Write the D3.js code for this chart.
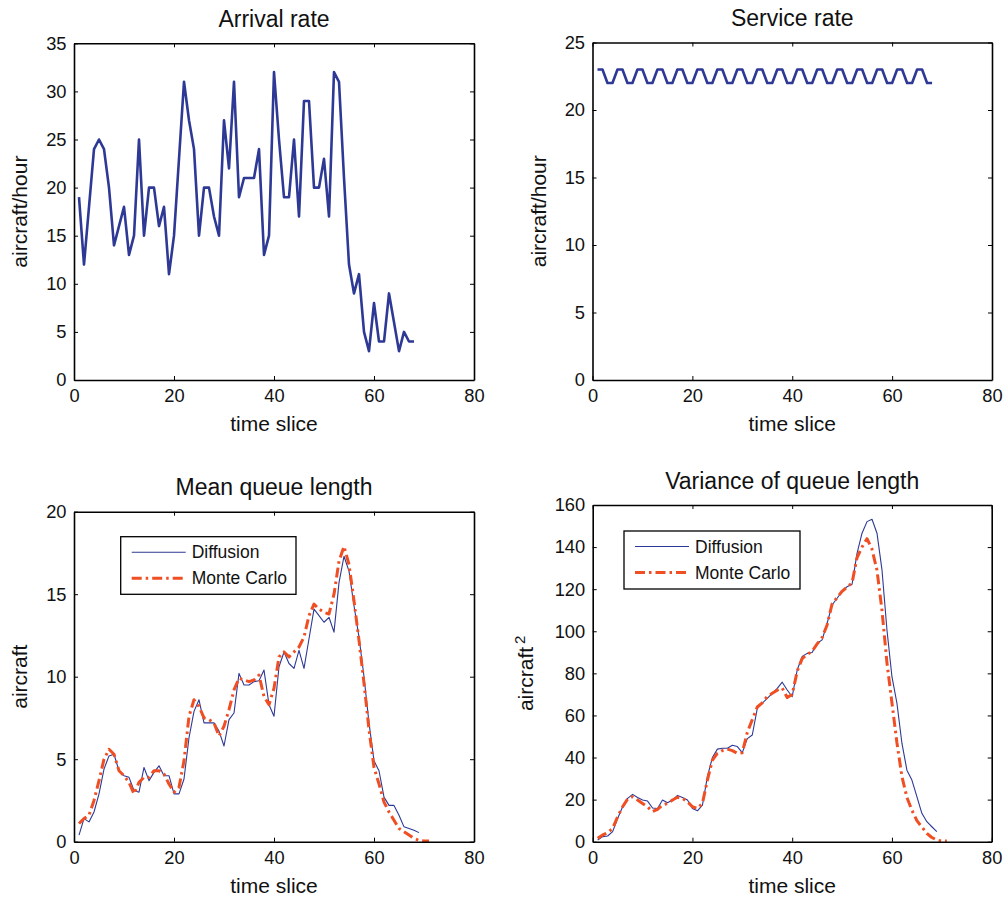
<!DOCTYPE html>
<html>
<head>
<meta charset="utf-8">
<script src="https://cdn.jsdelivr.net/npm/d3@7"></script>
<style>
  body { margin: 0; background: #fff; }
  svg { display: block; font-family: "Liberation Sans", Arial, sans-serif; }
</style>
</head>
<body>
<script>
// ---- data ----
const xTicks = [0, 20, 40, 60, 80];

const arrivalRate = [19, 12, 18, 24, 25, 24, 20, 14, 16, 18, 13, 15, 25, 15, 20, 20, 16, 18, 11, 15,
    23, 31, 27, 24, 15, 20, 20, 17, 15, 27, 22, 31, 19, 21, 21, 21, 24, 13, 15, 32,
    25, 19, 19, 25, 17, 29, 29, 20, 20, 23, 17, 32, 31, 21, 12, 9, 11, 5, 3, 8,
    4, 4, 9, 6, 3, 5, 4, 4];

const serviceRate = [23, 23, 22, 22, 23, 23, 22, 22, 23, 23, 22, 22, 23, 23, 22, 22, 23, 23, 22, 22,
    23, 23, 22, 22, 23, 23, 22, 22, 23, 23, 22, 22, 23, 23, 22, 22, 23, 23, 22, 22,
    23, 23, 22, 22, 23, 23, 22, 22, 23, 23, 22, 22, 23, 23, 22, 22, 23, 23, 22, 22,
    23, 23, 22, 22, 23, 23, 22, 22];

const meanDiffusion = [0.4, 1.4, 1.2, 1.8, 2.9, 4.4, 5.2, 5.3, 4.3, 4.0, 3.9, 3.1, 3.0, 4.5, 3.7, 4.2, 4.6, 4.0, 4.0, 2.9,
    2.9, 3.8, 6.3, 7.9, 8.6, 7.2, 7.2, 7.2, 6.7, 5.8, 7.4, 7.8, 10.2, 9.5, 9.5, 9.7, 9.75, 10.4, 8.3, 7.6,
    10.6, 11.5, 10.8, 10.5, 11.6, 10.5, 12.3, 14.1, 13.7, 13.3, 13.6, 12.7, 15.7, 17.3, 16.4, 14.3, 12.4, 10.0, 7.2, 4.9,
    4.3, 2.7, 2.2, 2.2, 1.6, 0.9, 0.8, 0.7, 0.55];

const meanMonteCarlo = [1.1, 1.4, 1.6, 2.5, 3.7, 5.0, 5.6, 5.3, 4.3, 4.0, 3.6, 2.9, 3.6, 3.9, 3.9, 4.3, 4.3, 4.1, 3.5, 3.0,
    3.3, 4.9, 7.6, 8.6, 8.2, 7.5, 7.4, 7.2, 6.4, 7.0, 8.0, 9.2, 9.9, 9.8, 9.7, 9.8, 10.1, 8.8, 8.3, 9.3,
    11.2, 11.5, 11.2, 11.5, 11.8, 12.4, 13.7, 14.4, 14.1, 13.9, 13.8, 15.0, 17.0, 17.9, 16.8, 14.6, 12.2, 9.6, 6.8, 4.5,
    3.5, 2.4, 1.8, 1.3, 0.8, 0.6, 0.4, 0.2, 0.08, 0.05, 0.05];

const varDiffusion = [0.8, 2.4, 2.7, 4.8, 11, 16.6, 20.6, 22.5, 21, 19.8, 19.3, 16, 15.8, 19.8, 18.5, 19.8, 22, 21, 19.8, 15.8,
    14.7, 17.4, 30.9, 40, 44, 44.4, 44.4, 45.8, 45.2, 42.3, 49, 50.7, 63.4, 65.8, 68.1, 70.5, 72.9, 75.8, 72.1, 68.9,
    81.6, 88, 89.5, 89.9, 94.3, 95.9, 103.8, 112.5, 115.7, 118.9, 121.2, 122.3, 137, 146.6, 152.1, 153.2, 146.6, 129.2, 100.6, 78.4,
    65.8, 46.8, 34, 29.3, 21.4, 13.5, 9.5, 7.1, 4.8];

const varMonteCarlo = [1.6, 3.2, 4.3, 6.3, 11.9, 16.6, 20.3, 21.4, 19.8, 18.2, 16.6, 14.3, 15.4, 17.4, 18.2, 19.8, 21.1, 20.6, 19, 16.6,
    15.8, 18.2, 29.3, 38.8, 42, 43.3, 44, 43.3, 42, 42.3, 52, 58, 64, 66, 69, 70.5, 72, 73, 68.5, 70,
    81, 87, 89, 90.5, 94, 97, 103, 113, 116, 119, 121, 123, 135, 140, 144, 139, 129, 110, 85, 66,
    47, 31, 21, 15, 10, 7, 4, 2, 0.8, 0.3, 0.3];

const legendLabels = ["Diffusion", "Monte Carlo"];

// ---- styles ----
const blue = "#2d3995";
const red = "#f04e23";
const tickFont = "18.3px";

const svg = d3.select("body")
    .append("svg")
    .attr("width", 1005)
    .attr("height", 898);

// one subplot: box with inward ticks on all four sides, MATLAB style
function renderPanel(p) {
    const x = d3.scaleLinear().domain([0, 80]).range([p.left, p.right]);
    const y = d3.scaleLinear().domain([0, p.yMax]).range([p.bottom, p.top]);
    const g = svg.append("g");

    const line = d3.line()
        .x((d, i) => x(i + 1))
        .y(d => y(d));

    p.series.forEach(s => {
        g.append("path")
            .datum(s.values)
            .attr("fill", "none")
            .attr("stroke", s.color)
            .attr("stroke-width", s.width)
            .attr("stroke-dasharray", s.dash || null)
            .attr("stroke-linejoin", "round")
            .attr("d", line);
    });

    const bottom = g.append("g")
        .attr("transform", `translate(0,${p.bottom})`)
        .call(d3.axisBottom(x).tickValues(xTicks).tickSize(-4).tickSizeOuter(0).tickPadding(9));
    const top = g.append("g")
        .attr("transform", `translate(0,${p.top})`)
        .call(d3.axisTop(x).tickValues(xTicks).tickSize(-4).tickSizeOuter(0).tickFormat(""));
    const left = g.append("g")
        .attr("transform", `translate(${p.left},0)`)
        .call(d3.axisLeft(y).tickValues(p.yTicks).tickSize(-4).tickSizeOuter(0).tickPadding(7.5));
    const right = g.append("g")
        .attr("transform", `translate(${p.right},0)`)
        .call(d3.axisRight(y).tickValues(p.yTicks).tickSize(-4).tickSizeOuter(0).tickFormat(""));

    [bottom, top, left, right].forEach(a => {
        a.select(".domain").attr("stroke", "#000").attr("stroke-width", 1.6);
        a.selectAll(".tick line").attr("stroke", "#000").attr("stroke-width", 1);
        a.selectAll("text")
            .style("font-size", tickFont)
            .style("font-family", "'Liberation Sans', Arial, sans-serif")
            .attr("fill", "#111");
    });

    // title
    g.append("text")
        .attr("x", (p.left + p.right) / 2)
        .attr("y", p.top - 16.5)
        .attr("text-anchor", "middle")
        .style("font-size", "23px")
        .attr("fill", "#111")
        .text(p.title);

    // x label
    g.append("text")
        .attr("x", (p.left + p.right) / 2)
        .attr("y", p.bottom + 51)
        .attr("text-anchor", "middle")
        .style("font-size", "21px")
        .attr("fill", "#111")
        .text("time slice");

    // y label
    const yl = g.append("text")
        .attr("transform", `translate(${p.left - p.yLabelOffset},${(p.top + p.bottom) / 2}) rotate(-90)`)
        .attr("text-anchor", "middle")
        .style("font-size", "21px")
        .attr("fill", "#111")
        .text(p.yLabel);
    if (p.yLabelSup) {
        yl.append("tspan")
            .attr("dy", "-0.55em")
            .attr("dx", "3")
            .style("font-size", "15px")
            .text(p.yLabelSup);
    }

    if (p.legend) {
        const lg = p.legend;
        const box = g.append("g");
        box.append("rect")
            .attr("x", lg.x).attr("y", lg.y)
            .attr("width", lg.w).attr("height", lg.h)
            .attr("fill", "#fff")
            .attr("stroke", "#000")
            .attr("stroke-width", 1.3);
        p.series.forEach((s, i) => {
            const ry = lg.y + 15.5 + i * 26;
            box.append("line")
                .attr("x1", lg.x + 11).attr("x2", lg.x + 65)
                .attr("y1", ry).attr("y2", ry)
                .attr("stroke", s.color)
                .attr("stroke-width", s.width)
                .attr("stroke-dasharray", s.dash || null);
            box.append("text")
                .attr("x", lg.x + 71)
                .attr("y", ry + 6)
                .style("font-size", "17.5px")
                .attr("fill", "#111")
                .text(legendLabels[i]);
        });
    }
}

renderPanel({
    left: 74, right: 474, top: 43.3, bottom: 380,
    yMax: 35, yTicks: [0, 5, 10, 15, 20, 25, 30, 35],
    title: "Arrival rate", yLabel: "aircraft/hour", yLabelOffset: 47,
    series: [{ values: arrivalRate, color: blue, width: 2.6 }]
});

renderPanel({
    left: 592.5, right: 992, top: 42.5, bottom: 380,
    yMax: 25, yTicks: [0, 5, 10, 15, 20, 25],
    title: "Service rate", yLabel: "aircraft/hour", yLabelOffset: 47,
    series: [{ values: serviceRate, color: blue, width: 2.6 }]
});

renderPanel({
    left: 74, right: 474, top: 511.7, bottom: 841.7,
    yMax: 20, yTicks: [0, 5, 10, 15, 20],
    title: "Mean queue length", yLabel: "aircraft", yLabelOffset: 47,
    series: [
        { values: meanDiffusion, color: blue, width: 1.1 },
        { values: meanMonteCarlo, color: red, width: 3, dash: "10,4,2.5,4" }
    ],
    legend: { x: 120.7, y: 536.7, w: 175.3, h: 57.6 }
});

renderPanel({
    left: 592.7, right: 991.7, top: 505, bottom: 841.7,
    yMax: 160, yTicks: [0, 20, 40, 60, 80, 100, 120, 140, 160],
    title: "Variance of queue length", yLabel: "aircraft", yLabelSup: "2", yLabelOffset: 59.5,
    series: [
        { values: varDiffusion, color: blue, width: 1.1 },
        { values: varMonteCarlo, color: red, width: 3, dash: "10,4,2.5,4" }
    ],
    legend: { x: 624, y: 531, w: 176, h: 58 }
});
</script>
</body>
</html>
